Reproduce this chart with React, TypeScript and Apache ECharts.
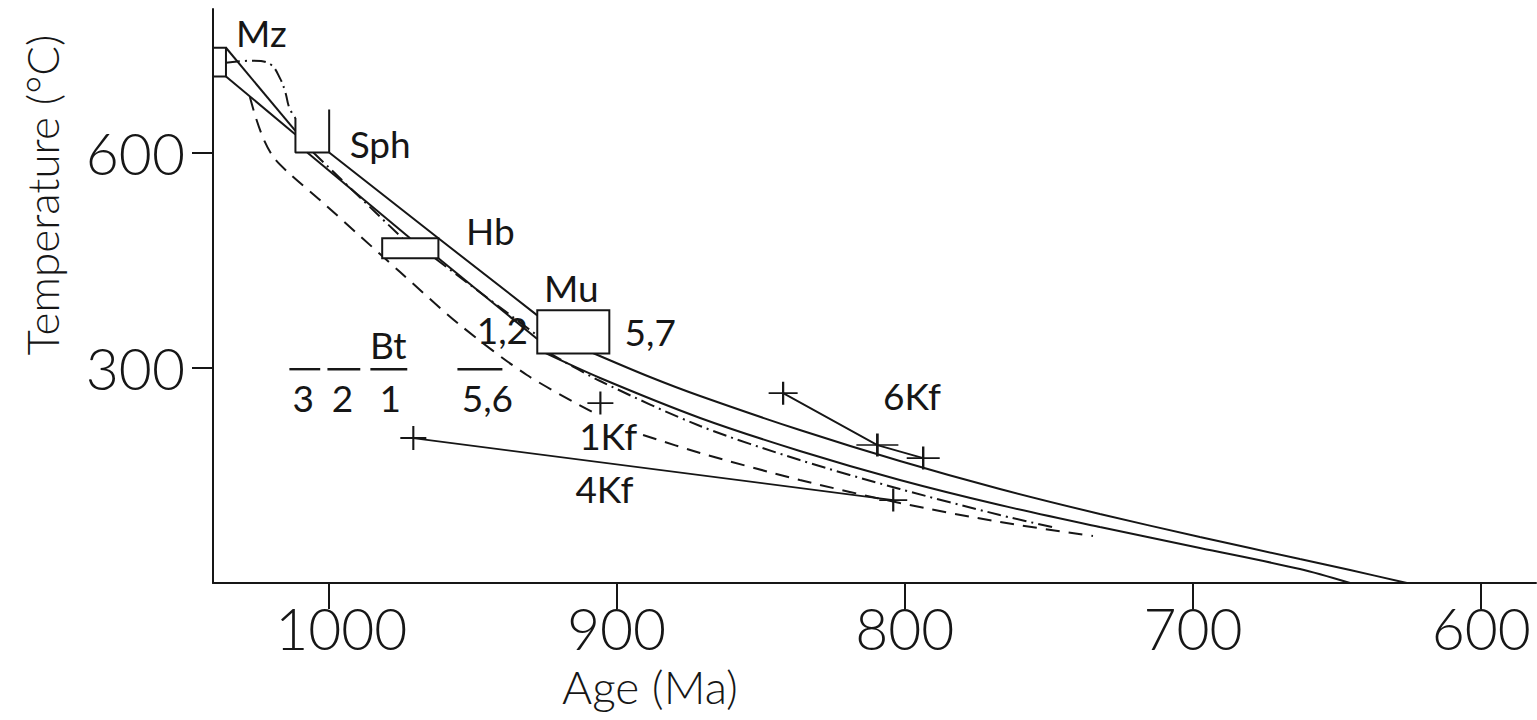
import React, { useEffect, useRef } from "react";
import * as echarts from "echarts";

// Ages in Ma, temperatures in °C.

// Cooling envelope, hotter (upper) boundary, broken where it meets a mineral box
const upperPath1 = [[1035.5, 746], [1011.4, 630]];
const upperPath2 = [[999.7, 600], [961.8, 480.5], [927.5, 373]];
const upperPath3 = [
  [908.2, 320.6], [888.4, 287.1], [871.0, 260.6], [836.4, 213.2], [801.7, 170.0],
  [767.0, 131.0], [732.3, 96.2], [697.6, 64.1], [662.9, 33.4], [645.5, 18.1], [625.8, 0],
];

// Cooling envelope, cooler (lower) boundary
const lowerPath1 = [[1035.5, 706], [1011.4, 625]];
const lowerPath2 = [[1007.3, 600], [971.6, 480.5]];
const lowerPath3 = [[961.8, 452.6], [927.5, 340]];
const lowerPath4 = [
  [924.8, 320.6], [905.7, 285.7], [871.0, 230.0], [836.4, 184.0], [801.7, 143.6],
  [767.0, 108.7], [732.3, 78.0], [697.6, 48.8], [662.9, 19.5], [645.5, 0],
];

// Dash-dot cooling path
const dashDot1 = [
  [1035.5, 725], [1026, 728], [1020.1, 723], [1016.7, 703], [1014.9, 684],
  [1013.5, 662], [1011.4, 648],
];
const dashDot2 = [[1005.2, 600], [974.3, 480.5]];
const dashDot3 = [[963, 452.6], [927.5, 345]];
const dashDot4 = [
  [923.4, 320.6], [905.7, 281.5], [871.0, 218.8], [836.4, 171.4], [801.7, 131.0],
  [767.0, 94.8], [747.5, 76.7],
];

// Dashed cooling path (interrupted by the 1Kf label)
const dashed1 = [
  [1027.2, 677.4], [1025.1, 648.1], [1022.3, 617.4], [1018.8, 592.3], [1013.3, 570.0],
  [1002.9, 533.8], [989.0, 483.6], [975.1, 433.4], [954.3, 359.6], [931.1, 289.9],
  [907.1, 235.5],
];
const dashed2 = [
  [890.8, 206.3], [871.0, 181.2], [836.4, 143.6], [801.7, 111.5], [767.0, 85.0], [734.7, 65.5],
];

// Mineral age / closure-temperature boxes: [age min, age max, T min, T max]
const mzBox = [1035.5, 1040, 706, 746];
const hbBox = [961.8, 981.3, 452.6, 480.5];
const muBox = [902.5, 927.5, 320, 380];
// Sphene bracket (open at the top)
const sphBracket = [[1011.4, 648], [1011.4, 600], [999.7, 600], [999.7, 660]];

// Biotite age ranges at its closure temperature
const btTemp = 298;
const btBars = [[1013.5, 1002.8], [1000.3, 988.9], [985.4, 972.6], [955.2, 939.6]];

// K-feldspar samples
const kf1 = [[905.6, 250.7]];
const kf4 = [[970.5, 202], [804, 115.6]];
const kf6 = [[842.2, 264.6], [809.5, 192.2], [793.6, 174.1]];

// Labels: [text, age, temperature]
const annotations: [string, number, number][] = [
  ["Mz", 1023.2, 767],
  ["Sph", 982, 613],
  ["Hb", 943.8, 491],
  ["Mu", 915.7, 412],
  ["5,7", 888.3, 351],
  ["1,2", 939.6, 354],
  ["Bt", 979.2, 332],
  ["3", 1008.7, 259],
  ["2", 995.1, 259],
  ["1", 978.5, 259],
  ["5,6", 944.8, 259],
  ["1Kf", 902.9, 205],
  ["4Kf", 904.2, 132],
  ["6Kf", 797.5, 262],
];

const ageTicks = [600, 700, 800, 900, 1000];
const tempTicks = [300, 600];

const FONT = "Lato, 'Open Sans', 'DejaVu Sans', sans-serif";
const INK = "#161616";
const CROSS = "path://M10,0L10,20M0,10L20,10";

const DASHED = [14, 9];
const DASH_DOT = [14, 5, 2, 5];

function pathSeries(data: number[][], type: any, smooth: number | false = false) {
  return {
    type: "line",
    data,
    symbol: "none",
    smooth,
    lineStyle: { color: INK, width: 2, type },
    silent: true,
    clip: false,
    z: 2,
  };
}

function crossSeries(data: number[][], sizes: number[][], withLine: boolean) {
  return {
    type: "line",
    data: data.map((d, i) => ({ value: d, symbolSize: sizes[i] })),
    symbol: CROSS,
    showSymbol: true,
    showAllSymbol: true,
    itemStyle: { color: "transparent", borderColor: INK, borderWidth: 2 },
    lineStyle: { color: INK, width: withLine ? 1.8 : 0, opacity: withLine ? 1 : 0 },
    silent: true,
    clip: false,
    z: 4,
  };
}

const tickFont = { fontSize: 57, fontFamily: FONT, fontWeight: 300, color: INK };

export default function App() {
  const ref = useRef<HTMLDivElement>(null);

  useEffect(() => {
    if (!ref.current) return;
    const chart = echarts.init(ref.current, null, { renderer: "svg" });

    const boxes = [mzBox, hbBox, muBox];

    chart.setOption({
      animation: false,
      backgroundColor: "#ffffff",
      grid: { left: 213, right: 1, top: 9, bottom: 137, containLabel: false },
      xAxis: {
        type: "value",
        inverse: true,
        min: 581,
        max: 1040,
        axisLine: { show: true, onZero: false, lineStyle: { color: INK, width: 2 } },
        axisTick: {
          show: true,
          length: 26,
          customValues: ageTicks,
          lineStyle: { color: INK, width: 2 },
        },
        axisLabel: {
          customValues: ageTicks,
          ...tickFont,
          margin: 16,
          formatter: (v: number) => (v === 1000 ? "{wide|1000}" : String(v)),
          rich: { wide: { ...tickFont, padding: [0, 0, 0, 26] } },
        },
        splitLine: { show: false },
      },
      yAxis: {
        type: "value",
        min: 0,
        max: 800,
        axisLine: { show: true, onZero: false, lineStyle: { color: INK, width: 2 } },
        axisTick: {
          show: true,
          length: 21,
          customValues: tempTicks,
          lineStyle: { color: INK, width: 2 },
        },
        axisLabel: {
          customValues: tempTicks,
          ...tickFont,
          margin: 28,
          formatter: (v: number) => String(v),
        },
        splitLine: { show: false },
      },
      graphic: [
        {
          type: "text",
          x: 42,
          y: 195,
          rotation: Math.PI / 2,
          style: {
            text: "Temperature (°C)",
            fontSize: 44,
            fontFamily: FONT,
            fontWeight: 300,
            fill: INK,
            textAlign: "center",
            textVerticalAlign: "middle",
          },
        },
        {
          type: "text",
          x: 650,
          y: 686,
          style: {
            text: "Age (Ma)",
            fontSize: 46,
            fontFamily: FONT,
            fontWeight: 300,
            fill: INK,
            textAlign: "center",
            textVerticalAlign: "middle",
          },
        },
      ],
      series: [
        pathSeries(upperPath1, "solid"),
        pathSeries(upperPath2, "solid"),
        pathSeries(upperPath3, "solid", 0.3),
        pathSeries(lowerPath1, "solid"),
        pathSeries(lowerPath2, "solid"),
        pathSeries(lowerPath3, "solid"),
        pathSeries(lowerPath4, "solid", 0.3),
        pathSeries(dashDot1, DASH_DOT, 0.4),
        pathSeries(dashDot2, DASH_DOT),
        pathSeries(dashDot3, DASH_DOT),
        pathSeries(dashDot4, DASH_DOT, 0.3),
        pathSeries(dashed1, DASHED, 0.3),
        pathSeries(dashed2, DASHED, 0.3),
        {
          type: "line",
          data: sphBracket,
          symbol: "none",
          lineStyle: { color: INK, width: 2 },
          silent: true,
          clip: false,
          z: 5,
        },
        {
          type: "custom",
          data: boxes,
          encode: { x: [0, 1], y: [2, 3] },
          clip: false,
          silent: true,
          z: 5,
          renderItem: (_params: any, api: any) => {
            const a = api.coord([api.value(0), api.value(3)]);
            const b = api.coord([api.value(1), api.value(2)]);
            return {
              type: "rect",
              shape: {
                x: Math.min(a[0], b[0]),
                y: Math.min(a[1], b[1]),
                width: Math.abs(b[0] - a[0]),
                height: Math.abs(b[1] - a[1]),
              },
              style: { fill: "#ffffff", stroke: INK, lineWidth: 2 },
            };
          },
        },
        {
          type: "custom",
          data: btBars.map(([a0, a1]) => [a0, a1, btTemp]),
          encode: { x: [0, 1], y: 2 },
          clip: false,
          silent: true,
          z: 5,
          renderItem: (_params: any, api: any) => {
            const p0 = api.coord([api.value(0), api.value(2)]);
            const p1 = api.coord([api.value(1), api.value(2)]);
            return {
              type: "line",
              shape: { x1: p0[0], y1: p0[1], x2: p1[0], y2: p1[1] },
              style: { stroke: INK, lineWidth: 2.4 },
            };
          },
        },
        crossSeries(kf1, [[26, 23]], false),
        crossSeries(kf4, [[26, 24], [28, 23]], true),
        crossSeries(kf6, [[29, 23], [42, 23], [33, 23]], true),
        {
          type: "custom",
          data: annotations.map(([, a, t]) => [a, t]),
          encode: { x: 0, y: 1 },
          clip: false,
          silent: true,
          z: 6,
          renderItem: (params: any, api: any) => {
            const p = api.coord([api.value(0), api.value(1)]);
            return {
              type: "text",
              x: p[0],
              y: p[1],
              style: {
                text: annotations[params.dataIndex][0],
                fontSize: 37,
                fontFamily: FONT,
                fontWeight: 400,
                fill: INK,
                textAlign: "center",
                textVerticalAlign: "middle",
              },
            };
          },
        },
      ],
    });

    return () => chart.dispose();
  }, []);

  return (
    <div
      ref={ref}
      style={{ position: "fixed", left: 0, top: 0, width: 1537, height: 720, background: "#fff" }}
    />
  );
}
